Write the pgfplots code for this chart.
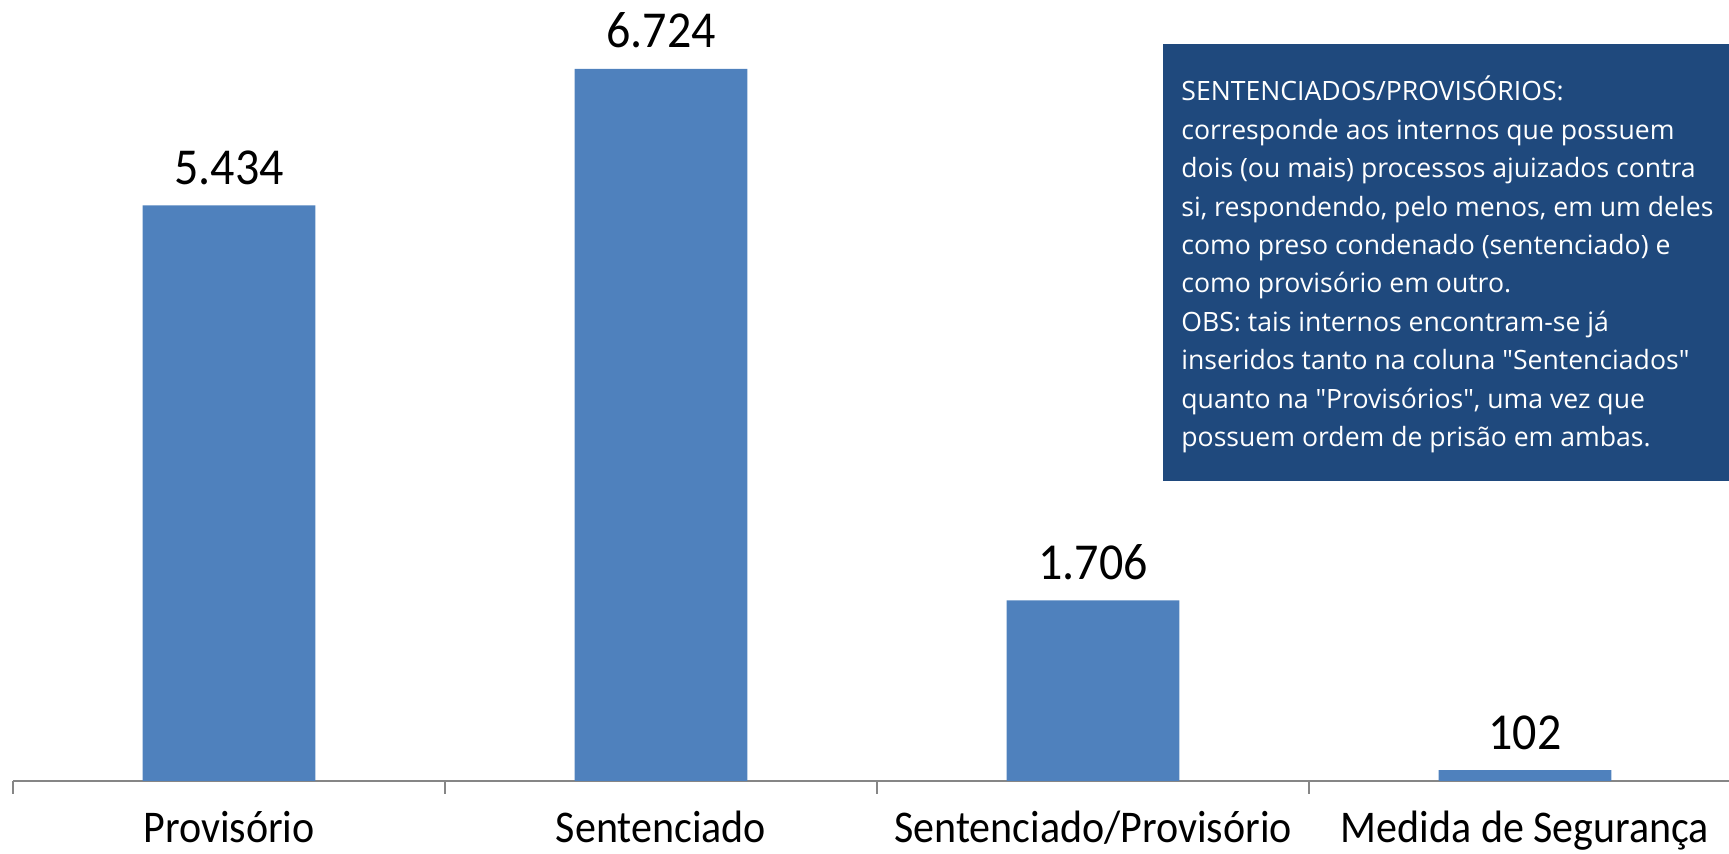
\documentclass[border=0pt]{standalone}
\usepackage{fontspec}
\setmainfont{Carlito}
\newfontfamily\boxfont{Open Sans}
\usepackage{pgfplots}
\pgfplotsset{compat=1.18}
\definecolor{barblue}{HTML}{4F81BD}
\definecolor{boxblue}{HTML}{1F497D}
\definecolor{axisgray}{HTML}{868686}
\newcommand{\catlab}[1]{\scalebox{1}[1.08]{#1}}
\begin{document}
\begin{tikzpicture}
\useasboundingbox (0,0) rectangle (864.5pt,427pt);
\clip (0,0) rectangle (864.5pt,427pt);
\begin{axis}[
 at={(6.5pt,36.5pt)}, anchor=south west,
 width=864pt, height=370.7pt, scale only axis,
 xmin=-0.5, xmax=3.5, ymin=0, ymax=7000,
 axis x line=bottom, axis y line=none,
 x axis line style={-, draw=axisgray, line width=0.8pt},
 xtick={-0.5,0.5,1.5,2.5,3.5}, xticklabels={},
 tick align=outside, major tick length=6.5pt,
 xtick style={draw=axisgray, line width=0.8pt},
 ytick=\empty,
 clip=false,
 ybar, bar width=0.4,
 point meta=explicit symbolic,
 nodes near coords={\catlab{\pgfplotspointmeta}},
 every node near coord/.append style={anchor=base, yshift=10.5pt, inner sep=0pt, font=\fontsize{24}{28}\selectfont, text=black},
]
\addplot[fill=barblue, draw=none] coordinates {(0,5434)[5.434] (1,6724)[6.724] (2,1706)[1.706] (3,102)[102]};
\node[anchor=base, inner sep=0pt, font=\fontsize{21}{25}\selectfont] at (axis cs:0,0) [yshift=-31pt] {\catlab{Provisório}};
\node[anchor=base, inner sep=0pt, font=\fontsize{21}{25}\selectfont] at (axis cs:1,0) [yshift=-31pt] {\catlab{Sentenciado}};
\node[anchor=base, inner sep=0pt, font=\fontsize{21}{25}\selectfont] at (axis cs:2,0) [yshift=-31pt] {\catlab{Sentenciado/Provisório}};
\node[anchor=base, inner sep=0pt, font=\fontsize{21}{25}\selectfont] at (axis cs:3,0) [yshift=-31pt] {\catlab{Medida de Segurança}};
\end{axis}
\fill[boxblue] (581.5pt,186.5pt) rectangle (880pt,405pt);
\begin{scope}[every node/.style={anchor=base west, inner sep=0pt, text=white, font=\boxfont\fontsize{13.3}{16}\selectfont}]
\node at (590.5pt,376.5pt) {SENTENCIADOS/PROVISÓRIOS:};
\node at (590.5pt,357.3pt) {corresponde aos internos que possuem};
\node at (590.5pt,338.1pt) {dois (ou mais) processos ajuizados contra};
\node at (590.5pt,318.9pt) {si, respondendo, pelo menos, em um deles};
\node at (590.5pt,299.7pt) {como preso condenado (sentenciado) e};
\node at (590.5pt,280.5pt) {como provisório em outro.};
\node at (590.5pt,261.3pt) {OBS: tais internos encontram-se já};
\node at (590.5pt,242.1pt) {inseridos tanto na coluna "Sentenciados"};
\node at (590.5pt,222.9pt) {quanto na "Provisórios", uma vez que};
\node at (590.5pt,203.7pt) {possuem ordem de prisão em ambas.};
\end{scope}
\end{tikzpicture}
\end{document}
